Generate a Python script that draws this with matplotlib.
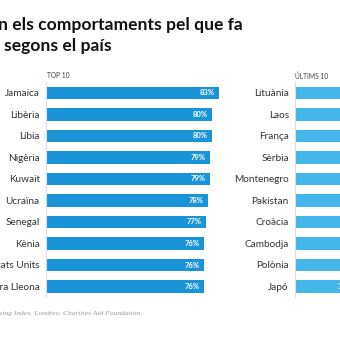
import matplotlib.pyplot as plt

# data
top_countries = ['Jamaica', 'Libèria', 'Líbia', 'Nigèria', 'Kuwait', 'Ucraïna',
                 'Senegal', 'Kènia', 'Estats Units', 'Serra Lleona']
top_values = [83, 80, 80, 79, 79, 78, 77, 76, 76, 76]

bottom_countries = ['Lituània', 'Laos', 'França', 'Sèrbia', 'Montenegro', 'Pakistan',
                    'Croàcia', 'Cambodja', 'Polònia', 'Japó']
bottom_values = [38, 37, 36, 36, 35, 35, 34, 33, 33, 30]

plt.rcParams['font.family'] = ['Lato', 'DejaVu Sans']

W, H = 340, 340
fig = plt.figure(figsize=(3.4, 3.4), dpi=100)

px = 2.08  # pixels per percent
row = 21.5
y_top = 93 - row / 2
y_bot = 93 + row * 9.5


def make_ax(left, width):
    ax = fig.add_axes([left / W, 1 - y_bot / H, width / W, (y_bot - y_top) / H])
    ax.set_xlim(0, width / px)
    ax.set_ylim(9.5, -0.5)
    for s in ['top', 'right', 'bottom']:
        ax.spines[s].set_visible(False)
    ax.spines['left'].set_color('#dddddd')
    ax.spines['left'].set_linewidth(0.8)
    ax.set_xticks([])
    ax.tick_params(axis='y', length=0, pad=4.5, labelsize=7.2, labelcolor='#333333')
    return ax


def draw(ax, names, vals, color):
    ax.barh(range(len(vals)), vals, height=0.6, color=color)
    ax.set_yticks(range(len(vals)))
    ax.set_yticklabels(names)
    for i, v in enumerate(vals):
        ax.annotate(f'{v}%', (v, i), xytext=(-3, 0), textcoords='offset points',
                    ha='right', va='center', color='white', fontsize=5.5,
                    fontweight='bold')


ax1 = make_ax(46, 200)
draw(ax1, top_countries, top_values, '#1a94d8')
ax2 = make_ax(295, 110)
draw(ax2, bottom_countries, bottom_values, '#45b6ea')

fig.text(47 / W, 1 - 76 / H, 'TOP 10', fontsize=4.8, color='#444444', va='center')
fig.text(295 / W, 1 - 76 / H, 'ÚLTIMS 10', fontsize=4.8, color='#444444', va='center')

fig.text(-2 / W, 1 - 25 / H, 'n els comportaments pel que fa', fontsize=12.6,
         fontweight='bold', color='#111111', va='center')
fig.text(4 / W, 1 - 46 / H, 'segons el país', fontsize=12.6,
         fontweight='bold', color='#111111', va='center')

fig.text(-1 / W, 1 - 313 / H, 'ving Index. Londres: Charities Aid Foundation.',
         fontsize=5.4, style='italic', family='Liberation Serif', color='#999999',
         va='center')

fig.savefig('out.png', dpi=100)
